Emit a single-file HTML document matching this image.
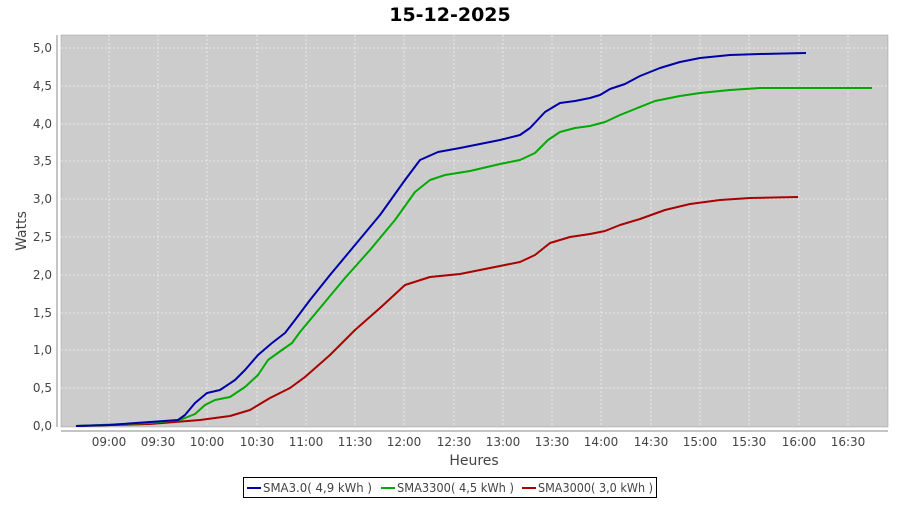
<!DOCTYPE html>
<html><head><meta charset="utf-8"><style>
body{margin:0;background:#fff;font-family:"Liberation Sans","DejaVu Sans",sans-serif;}
</style></head><body>
<svg width="900" height="500" xmlns="http://www.w3.org/2000/svg" font-family="DejaVu Sans, Liberation Sans, sans-serif">
<rect width="900" height="500" fill="#fff"/>
<text x="450" y="21" text-anchor="middle" font-size="19" font-weight="bold" fill="#000">15-12-2025</text>
<rect x="61" y="35" width="827" height="392" fill="#cccccc" stroke="#999" stroke-width="0.5"/>
<g stroke="#eeeeee" stroke-width="0.8" stroke-dasharray="2,2">
<line x1="61" x2="888" y1="48" y2="48"/><line x1="61" x2="888" y1="86" y2="86"/><line x1="61" x2="888" y1="124" y2="124"/><line x1="61" x2="888" y1="161" y2="161"/><line x1="61" x2="888" y1="199" y2="199"/><line x1="61" x2="888" y1="237" y2="237"/><line x1="61" x2="888" y1="275" y2="275"/><line x1="61" x2="888" y1="313" y2="313"/><line x1="61" x2="888" y1="350" y2="350"/><line x1="61" x2="888" y1="388" y2="388"/>
<line y1="35" y2="427" x1="109" x2="109"/><line y1="35" y2="427" x1="158" x2="158"/><line y1="35" y2="427" x1="207" x2="207"/><line y1="35" y2="427" x1="257" x2="257"/><line y1="35" y2="427" x1="306" x2="306"/><line y1="35" y2="427" x1="355" x2="355"/><line y1="35" y2="427" x1="404" x2="404"/><line y1="35" y2="427" x1="454" x2="454"/><line y1="35" y2="427" x1="503" x2="503"/><line y1="35" y2="427" x1="552" x2="552"/><line y1="35" y2="427" x1="601" x2="601"/><line y1="35" y2="427" x1="651" x2="651"/><line y1="35" y2="427" x1="700" x2="700"/><line y1="35" y2="427" x1="749" x2="749"/><line y1="35" y2="427" x1="848" x2="848"/><line y1="35" y2="427" x1="799" x2="799"/>
</g>
<line x1="61" y1="431" x2="888" y2="431" stroke="#888"/>
<line x1="57" y1="35" x2="57" y2="427" stroke="#888"/>
<g font-size="12" fill="#444" text-anchor="end">
<text x="52" y="52">5,0</text><text x="52" y="90">4,5</text><text x="52" y="128">4,0</text><text x="52" y="165">3,5</text><text x="52" y="203">3,0</text><text x="52" y="241">2,5</text><text x="52" y="279">2,0</text><text x="52" y="317">1,5</text><text x="52" y="354">1,0</text><text x="52" y="392">0,5</text><text x="52" y="430">0,0</text>
</g>
<g font-size="12" fill="#444" text-anchor="middle">
<text x="109" y="446">09:00</text><text x="158" y="446">09:30</text><text x="207" y="446">10:00</text><text x="257" y="446">10:30</text><text x="306" y="446">11:00</text><text x="355" y="446">11:30</text><text x="404" y="446">12:00</text><text x="454" y="446">12:30</text><text x="503" y="446">13:00</text><text x="552" y="446">13:30</text><text x="601" y="446">14:00</text><text x="651" y="446">14:30</text><text x="700" y="446">15:00</text><text x="749" y="446">15:30</text><text x="799" y="446">16:00</text><text x="848" y="446">16:30</text>
</g>
<text x="474" y="465" text-anchor="middle" font-size="14" fill="#444">Heures</text>
<text transform="translate(26,231) rotate(-90)" text-anchor="middle" font-size="14" fill="#444">Watts</text>
<g fill="none" stroke-width="2" stroke-linejoin="round">
<polyline stroke="#aa0000" points="76,426 150,424 200,420 230,416 250,410 270,398 290,388 305,377 330,355 355,330 380,308 405,285 430,277 460,274 490,268 520,262 535,255 550,243 570,237 590,234 605,231 620,225 640,219 665,210 690,204 720,200 750,198 798,197"/>
<polyline stroke="#00aa00" points="76,426 150,423 180,420 195,414 205,405 215,400 230,397 245,387 258,375 268,360 282,350 292,343 300,332 320,308 345,278 370,250 395,220 415,192 430,180 445,175 470,171 500,164 520,160 535,153 548,140 560,132 575,128 590,126 605,122 620,115 635,109 655,101 680,96 700,93 730,90 760,88 800,88 872,88"/>
<polyline stroke="#0000aa" points="76,426 109,425 150,422 178,420 185,415 195,403 207,393 220,390 235,380 245,370 258,355 272,343 285,333 295,320 310,300 330,275 355,245 380,215 405,180 420,160 438,152 460,148 480,144 500,140 520,135 530,128 545,112 560,103 575,101 590,98 600,95 610,89 625,84 640,76 660,68 680,62 700,58 730,55 760,54 806,53"/>
</g>
<rect x="243.5" y="477.5" width="413" height="20" fill="#fff" stroke="#000"/>
<g stroke-width="2"><line x1="247" x2="261" y1="488" y2="488" stroke="#0000aa"/><line x1="381" x2="395" y1="488" y2="488" stroke="#00aa00"/><line x1="522" x2="536" y1="488" y2="488" stroke="#aa0000"/></g>
<g font-size="12" fill="#444"><text x="263" y="492" textLength="109" lengthAdjust="spacingAndGlyphs">SMA3.0( 4,9 kWh )</text><text x="397" y="492" textLength="117" lengthAdjust="spacingAndGlyphs">SMA3300( 4,5 kWh )</text><text x="538" y="492" textLength="115" lengthAdjust="spacingAndGlyphs">SMA3000( 3,0 kWh )</text></g>
</svg>
</body></html>
